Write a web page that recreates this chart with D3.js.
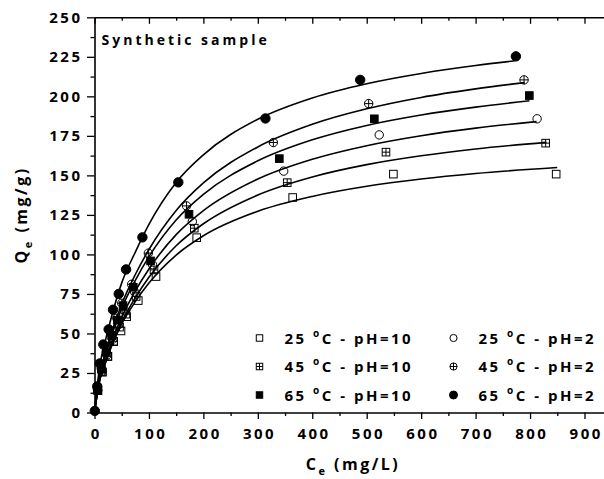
<!DOCTYPE html>
<html>
<head>
<meta charset="utf-8">
<script src="https://cdn.jsdelivr.net/npm/d3@7"></script>
<style>
  body { margin: 0; background: #fff; }
  svg { display: block; }
  text { font-family: "Open Sans", sans-serif; font-weight: 700; fill: #000; }
</style>
</head>
<body>
<svg id="chart" width="604" height="479"></svg>
<script>
// ticks
const xTicks = [0, 100, 200, 300, 400, 500, 600, 700, 800, 900];
const xMinor = [50, 150, 250, 350, 450, 550, 650, 750, 850];
const yTicks = [0, 25, 50, 75, 100, 125, 150, 175, 200, 225, 250];
const yMinor = [12.5, 37.5, 62.5, 87.5, 112.5, 137.5, 162.5, 187.5, 212.5, 237.5];

// measured points (Ce, Qe)
const sq25_ce = [6.2, 14.4, 24.6, 35.2, 48.7, 59, 80.4, 113, 187.7, 364, 549, 848];
const sq25_qe = [13.8, 25.6, 35.4, 44.8, 51.6, 60.6, 70.8, 86, 110.6, 136, 150.8, 150.8];
const sq45_ce = [6.2, 14.4, 24.4, 34.9, 46, 57.8, 76.5, 109.3, 183.3, 354, 535.4, 828.7];
const sq45_qe = [13.8, 25.6, 35.6, 45.1, 54, 62.2, 73.4, 90.2, 116.6, 145.4, 164.7, 170.4];
const sq65_ce = [5.5, 12.7, 21.9, 31.5, 42, 52.4, 71.3, 103, 173.6, 339.5, 514, 798.7];
const sq65_qe = [14.4, 27.3, 38.1, 48.6, 58.4, 67.6, 79.2, 95.9, 125.4, 160.6, 185.8, 200.5];
const ci25_ce = [6, 13.8, 23.5, 33.6, 44.4, 55.8, 73.8, 106.5, 179.7, 347.5, 523, 813];
const ci25_qe = [14, 26.2, 36.5, 46.4, 55.6, 64.2, 76.2, 93.5, 120.8, 152.7, 175.6, 185.8];
const ci45_ce = [5.4, 12.4, 21.5, 30.5, 41, 50, 68.3, 98.9, 169, 328.5, 503.6, 789];
const ci45_qe = [14.6, 27.7, 38.5, 49.6, 59.6, 69.1, 81.1, 100.8, 130.7, 170.8, 195.4, 210.4];
const ci65_ce = [0.6, 5, 9.5, 16.2, 26, 34, 44.5, 58, 88, 154, 314, 488, 774];
const ci65_qe = [1, 16.5, 31, 43, 52.6, 65, 75, 90.5, 110.8, 145.6, 186, 210.4, 225.3];

// fitted curves
const fitGrid = [0, 5, 10, 20, 30, 50, 75, 100, 150, 200, 300, 400, 500, 600, 700];
const sq25_fitEnd = [850, 155];
const sq25_fit = [0, 11.7, 21.1, 31.3, 40.8, 56, 70.2, 81.9, 99.6, 111.8, 127.3, 136.7, 143.1, 147.7, 151.2];
const sq45_fitEnd = [830, 170.9];
const sq45_fit = [0, 11.6, 21, 31.4, 41.2, 57.3, 72.6, 85.5, 105.5, 119.4, 137.6, 149, 156.8, 162.4, 166.7];
const sq65_fitEnd = [799, 197.2];
const sq65_fit = [0, 13.3, 24.1, 36, 47.3, 65.9, 83.6, 98.6, 121.8, 138, 159.2, 172.5, 181.6, 188.2, 193.2];
const ci25_fitEnd = [812, 184];
const ci25_fit = [0, 12.1, 22, 32.9, 43.3, 60.4, 76.9, 90.8, 112.5, 127.7, 147.7, 160.2, 168.8, 175.1, 179.9];
const ci45_fitEnd = [790, 208.7];
const ci45_fit = [0, 13.7, 24.9, 37.3, 49.1, 68.6, 87.3, 103.1, 127.8, 145.2, 168, 182.3, 192.1, 199.3, 204.7];
const ci65_fitEnd = [772, 222.5];
const ci65_fit = [0, 17, 30, 45.5, 59, 82, 101.5, 119, 145.5, 163, 185.5, 199, 208, 214.5, 219.5];

const legendTemps = ['25', '45', '65', '25', '45', '65'];
const legendPH = ['10', '10', '10', '2', '2', '2'];

const svg = d3.select('#chart');
const x = d3.scaleLinear().domain([0, 950]).range([94.5, 611.7]);
const y = d3.scaleLinear().domain([0, 250]).range([412.5, 17.3]);

const series = [
  { ce: sq25_ce, qe: sq25_qe, fit: sq25_fit, end: sq25_fitEnd, mark: 'sq' },
  { ce: sq45_ce, qe: sq45_qe, fit: sq45_fit, end: sq45_fitEnd, mark: 'sqx' },
  { ce: sq65_ce, qe: sq65_qe, fit: sq65_fit, end: sq65_fitEnd, mark: 'sqf' },
  { ce: ci25_ce, qe: ci25_qe, fit: ci25_fit, end: ci25_fitEnd, mark: 'ci' },
  { ce: ci45_ce, qe: ci45_qe, fit: ci45_fit, end: ci45_fitEnd, mark: 'cix' },
  { ce: ci65_ce, qe: ci65_qe, fit: ci65_fit, end: ci65_fitEnd, mark: 'cif' }
];

// axes
function styleAxis(g) {
  g.select('.domain').attr('stroke', '#000').attr('stroke-width', 1.6);
  g.selectAll('.tick line').attr('stroke', '#000').attr('stroke-width', 1.3);
  g.selectAll('.tick text').attr('font-size', 15).attr('letter-spacing', 2.5)
    .attr('font-family', '"Open Sans", sans-serif').attr('font-weight', 700).attr('fill', '#000');
}

const gxMinor = svg.append('g').attr('transform', `translate(0,${y(0)})`)
  .call(d3.axisBottom(x).tickValues(xMinor).tickSize(3.5).tickFormat(''));
gxMinor.select('.domain').remove();
styleAxis(gxMinor);

const gx = svg.append('g').attr('transform', `translate(0,${y(0)})`)
  .call(d3.axisBottom(x).tickValues(xTicks).tickSize(6.5).tickSizeOuter(0).tickPadding(9.5).tickFormat(d3.format('d')));
styleAxis(gx);
gx.selectAll('.tick text').attr('dx', 1.25);

const gtMinor = svg.append('g').attr('transform', `translate(0,${y(250)})`)
  .call(d3.axisTop(x).tickValues(xMinor).tickSize(-3.5).tickFormat(''));
gtMinor.select('.domain').remove();
styleAxis(gtMinor);

const gt = svg.append('g').attr('transform', `translate(0,${y(250)})`)
  .call(d3.axisTop(x).tickValues(xTicks).tickSize(-6.5).tickSizeOuter(0).tickFormat(''));
styleAxis(gt);

const gyMinor = svg.append('g').attr('transform', `translate(${x(0)},0)`)
  .call(d3.axisLeft(y).tickValues(yMinor).tickSize(4).tickFormat(''));
gyMinor.select('.domain').remove();
styleAxis(gyMinor);

const gy = svg.append('g').attr('transform', `translate(${x(0)},0)`)
  .call(d3.axisLeft(y).tickValues(yTicks).tickSize(7.5).tickSizeOuter(0).tickPadding(4.5).tickFormat(d3.format('d')));
styleAxis(gy);

// fitted curves
const line = d3.line().x(d => x(d[0])).y(d => y(d[1])).curve(d3.curveMonotoneX);
series.forEach(s => {
  const pts = fitGrid.filter(c => c < s.end[0]).map((c, i) => [c, s.fit[i]]);
  pts.push(s.end);
  svg.append('path').attr('d', line(pts))
    .attr('fill', 'none').attr('stroke', '#000').attr('stroke-width', 1.6);
});

// markers
function marker(g, type, cx, cy, k) {
  const h = 3.8 * k, r = 4.2 * k;
  if (type.startsWith('sq')) {
    g.append('rect').attr('x', cx - h).attr('y', cy - h).attr('width', 2 * h).attr('height', 2 * h)
      .attr('fill', type === 'sqf' ? '#000' : 'none').attr('stroke', '#000').attr('stroke-width', 1);
    if (type === 'sqx') {
      g.append('path').attr('d', `M${cx - h},${cy}H${cx + h}M${cx},${cy - h}V${cy + h}`)
        .attr('stroke', '#000').attr('stroke-width', 1);
    }
  } else {
    const rr = type === 'cif' ? r * 1.12 : r;
    g.append('circle').attr('cx', cx).attr('cy', cy).attr('r', rr)
      .attr('fill', type === 'cif' ? '#000' : 'none').attr('stroke', '#000').attr('stroke-width', 1);
    if (type === 'cix') {
      g.append('path').attr('d', `M${cx - r},${cy}H${cx + r}M${cx},${cy - r}V${cy + r}`)
        .attr('stroke', '#000').attr('stroke-width', 1);
    }
  }
}

series.forEach(s => {
  const g = svg.append('g');
  s.ce.forEach((c, i) => marker(g, s.mark, x(c), y(s.qe[i]), 1));
});

// sample label
svg.append('text').attr('x', 101.5).attr('y', 45).attr('font-size', 14).attr('letter-spacing', 3)
  .text('Synthetic sample');

// legend
const legendRows = [338, 366.5, 395];
const legendCols = [259.5, 453.5];
series.forEach((s, i) => {
  const col = Math.floor(i / 3), row = i % 3;
  const lx = legendCols[col], ly = legendRows[row];
  marker(svg.append('g'), s.mark, lx, ly, 0.85);
  const t = svg.append('text').attr('x', lx + 25).attr('y', ly + 5.5)
    .attr('font-size', 15).attr('letter-spacing', 2.5);
  t.append('tspan').text(legendTemps[i] + ' ');
  t.append('tspan').attr('font-size', 10).attr('dy', -7).text('o');
  t.append('tspan').attr('dy', 7).text('C - pH=' + legendPH[i]);
});

// axis titles
const xt = svg.append('text').attr('x', 353).attr('y', 470).attr('text-anchor', 'middle')
  .attr('font-size', 16).attr('letter-spacing', 2.5);
xt.append('tspan').text('C');
xt.append('tspan').attr('font-size', 11).attr('dy', 5).text('e');
xt.append('tspan').attr('dy', -5).text(' (mg/L)');

const yt = svg.append('text').attr('transform', `translate(27,${y(125)}) rotate(-90)`)
  .attr('text-anchor', 'middle').attr('font-size', 16).attr('letter-spacing', 2.5);
yt.append('tspan').text('Q');
yt.append('tspan').attr('font-size', 11).attr('dy', 5).text('e');
yt.append('tspan').attr('dy', -5).text(' (mg/g)');
</script>
</body>
</html>
